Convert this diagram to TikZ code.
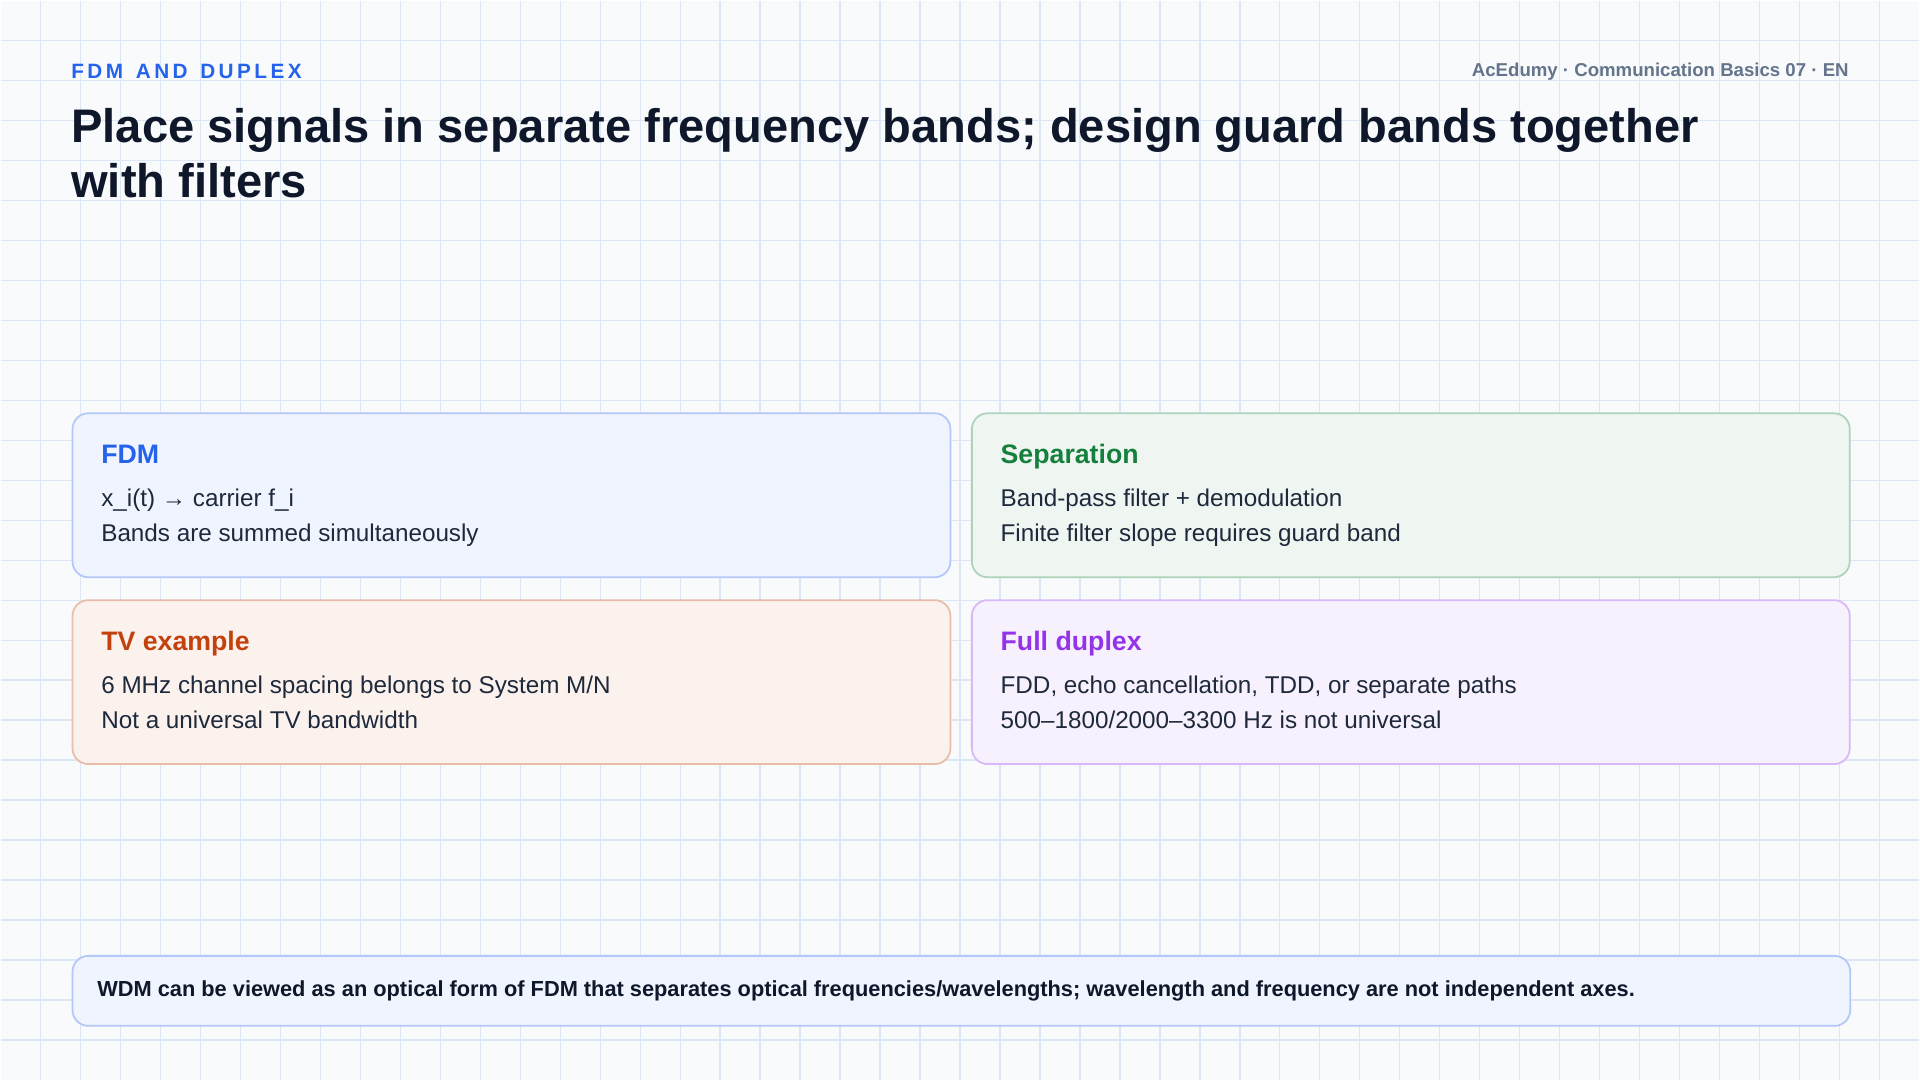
\documentclass[tikz,border=0pt]{standalone}
\usepackage{fontspec}
\setmainfont{Liberation Sans}
\usetikzlibrary{positioning}
\definecolor{bgc}{HTML}{F8FAFC}
\definecolor{gridc}{HTML}{DCE7F5}
\definecolor{ink}{HTML}{0F172A}
\definecolor{body}{HTML}{1E293B}
\definecolor{muted}{HTML}{64748B}
\definecolor{blue}{HTML}{2563EB}
\definecolor{green}{HTML}{15803D}
\definecolor{orange}{HTML}{C2410C}
\definecolor{purple}{HTML}{9333EA}
\tikzset{
  card/.style={draw=#1!35, fill=#1!7, line width=0.5pt, rounded corners=4.5pt, anchor=north west,
    minimum width=8.78cm, minimum height=1.64cm},
  head/.style={anchor=base west, font=\bfseries\fontsize{7.6}{9}\selectfont, text=#1, inner sep=0pt},
  line/.style={anchor=base west, font=\fontsize{6.9}{8}\selectfont, text=body, inner sep=0pt}
}
\begin{document}
\begin{tikzpicture}[x=0.01cm,y=-0.01cm]
\fill[bgc] (0,0) rectangle (1920,1080);
\foreach \i in {1,...,47} \draw[gridc, line width=0.4pt] (\i*40,0) -- (\i*40,1080);
\foreach \j in {1,...,26} \draw[gridc, line width=0.4pt] (0,\j*40) -- (1920,\j*40);
\useasboundingbox (0,0) rectangle (1920,1080);
% header
\node[anchor=base west, inner sep=0pt, text=blue, font=\bfseries\fontsize{5.9}{7}\selectfont] (kicker) at (70,78) {F\,D\,M\, \,A\,N\,D\, \,D\,U\,P\,L\,E\,X};
\node[anchor=base east, inner sep=0pt, text=muted, font=\bfseries\fontsize{5.3}{7}\selectfont] (brand) at (1850,76) {AcEdumy · Communication Basics 07 · EN};
\node[anchor=base west, inner sep=0pt, text=ink, font=\bfseries\fontsize{13.4}{15}\selectfont] (title1) at (70,142) {Place signals in separate frequency bands; design guard bands together};
\node[anchor=base west, inner sep=0pt, text=ink, font=\bfseries\fontsize{13.4}{15}\selectfont] (title2) at (70,197) {with filters};
% cards
\node[card=blue] (fdm) at (71,412) {};
\node[head=blue] (fdmh) at (100,463) {FDM};
\node[line] (fdm1) at (100,506) {x\_i(t) → carrier f\_i};
\node[line] (fdm2) at (100,541) {Bands are summed simultaneously};
\node[card=green] (sep) at (971,412) {};
\node[head=green] (seph) at (1000,463) {Separation};
\node[line] (sep1) at (1000,506) {Band-pass filter + demodulation};
\node[line] (sep2) at (1000,541) {Finite filter slope requires guard band};
\node[card=orange] (tv) at (71,599) {};
\node[head=orange] (tvh) at (100,650) {TV example};
\node[line] (tv1) at (100,693) {6 MHz channel spacing belongs to System M/N};
\node[line] (tv2) at (100,728) {Not a universal TV bandwidth};
\node[card=purple] (dup) at (971,599) {};
\node[head=purple] (duph) at (1000,650) {Full duplex};
\node[line] (dup1) at (1000,693) {FDD, echo cancellation, TDD, or separate paths};
\node[line] (dup2) at (1000,728) {500–1800/2000–3300 Hz is not universal};
% note
\node[card=blue, minimum width=17.78cm, minimum height=0.7cm] (note) at (71,955) {};
\node[anchor=base west, inner sep=0pt, text=ink, font=\bfseries\fontsize{6.2}{8}\selectfont] (notet) at (96,997) {WDM can be viewed as an optical form of FDM that separates optical frequencies/wavelengths; wavelength and frequency are not independent axes.};
\end{tikzpicture}
\end{document}
